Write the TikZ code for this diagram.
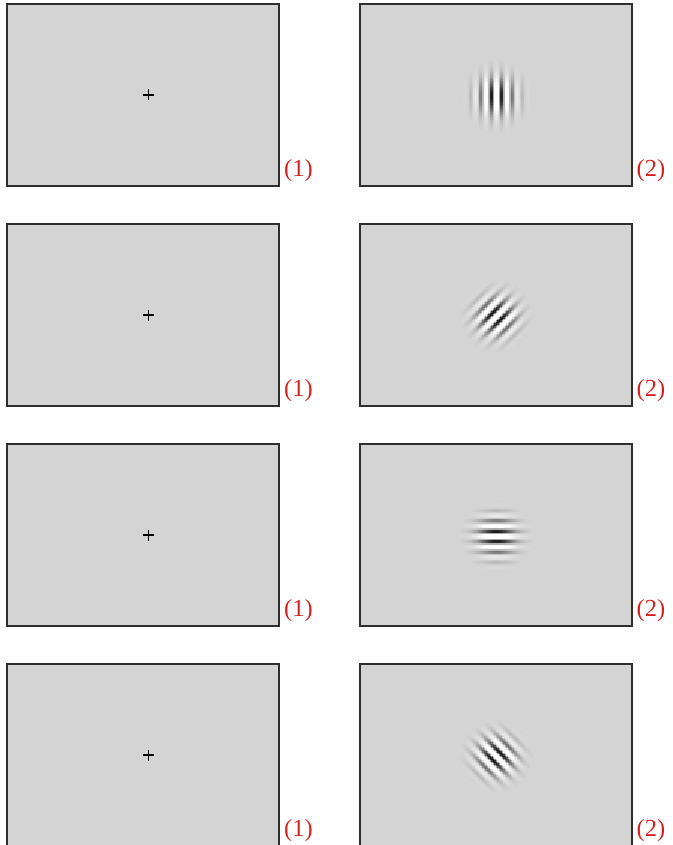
\documentclass[tikz,border=0pt]{standalone}
\usepackage{fontspec}
\setmainfont{Liberation Serif}
\definecolor{panelgray}{gray}{0.83}
\definecolor{framecol}{gray}{0.18}
\definecolor{labelred}{rgb}{0.84,0.13,0.13}
\tikzset{
  panel/.style={fill=panelgray, draw=framecol, line width=1.1pt},
  lab/.style={text=labelred, font=\fontsize{24.5}{26}\selectfont, anchor=base west, inner sep=0pt},
  fixcross/.style={draw=black, line width=1.1pt},
}
\newcommand\mygabor[3]{%
  \foreach \i in {-24,...,24}{%
    \foreach \j in {-24,...,24}{%
      \pgfmathsetmacro\gx{1.5*\i}%
      \pgfmathsetmacro\gy{1.5*\j}%
      \pgfmathsetmacro\gr{\gx*\gx+\gy*\gy}%
      \ifdim\gr pt<1300pt
        \pgfmathsetmacro\gp{\gx*cos(#3)+\gy*sin(#3)}%
        \pgfmathsetmacro\gt{0.85*exp(-\gr/312)*cos(360*\gp/10.5)}%
        \pgfmathsetmacro\gk{100*max(0,min(1,0.17-(\gt>0?0.45*\gt:\gt)))}%
        \fill[black!\gk!white] ({#1+\gx-0.85},{#2+\gy-0.85}) rectangle ++(1.7,1.7);%
      \fi
    }}}
\begin{document}
\begin{tikzpicture}[x=1pt,y=-1pt]
\useasboundingbox (0,0) rectangle (672,845);
\foreach \r/\ang in {0/0,1/45,2/90,3/-45}{
  \begin{scope}[shift={(0,220*\r)}]
    \draw[panel] (7,4) rectangle (279,186);
    \draw[panel] (360,4) rectangle (632,186);
    \draw[fixcross] (143.3,95) -- (154.3,95);
    \draw[fixcross] (148.8,89.5) -- (148.8,100.5);
    \mygabor{496.5}{96.5}{\ang}
    \node[lab] (L\r) at (284,176) {(1)};
    \node[lab] (R\r) at (636.5,176) {(2)};
  \end{scope}
}
\end{tikzpicture}
\end{document}
